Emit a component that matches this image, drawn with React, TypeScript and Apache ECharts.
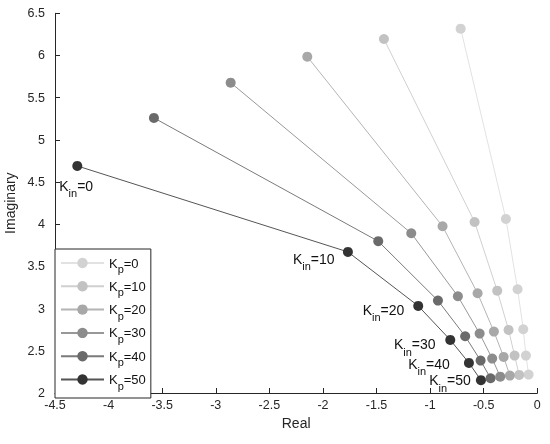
import React, { useEffect, useRef } from 'react';
import * as echarts from 'echarts';

const kpValues = ['0', '10', '20', '30', '40', '50'];
const kinValues = ['0', '10', '20', '30', '40', '50'];

const realKp0 = [-0.715, -0.293, -0.184, -0.131, -0.106, -0.081];
const imagKp0 = [6.318, 4.063, 3.23, 2.756, 2.443, 2.218];
const realKp10 = [-1.431, -0.585, -0.374, -0.268, -0.212, -0.169];
const imagKp10 = [6.195, 4.027, 3.213, 2.748, 2.443, 2.214];
const realKp20 = [-2.146, -0.884, -0.557, -0.405, -0.314, -0.256];
const imagKp20 = [5.986, 3.976, 3.182, 2.728, 2.428, 2.206];
const realKp30 = [-2.861, -1.176, -0.741, -0.538, -0.421, -0.346];
const imagKp30 = [5.678, 3.893, 3.147, 2.704, 2.408, 2.194];
const realKp40 = [-3.577, -1.484, -0.927, -0.673, -0.529, -0.436];
const imagKp40 = [5.26, 3.799, 3.095, 2.673, 2.384, 2.175];
const realKp50 = [-4.292, -1.767, -1.111, -0.812, -0.638, -0.526];
const imagKp50 = [4.691, 3.672, 3.032, 2.629, 2.357, 2.152];

const xMin = -4.5, xMax = 0, xStep = 0.5;
const yMin = 2, yMax = 6.5, yStep = 0.5;

const realSeries = [realKp0, realKp10, realKp20, realKp30, realKp40, realKp50];
const imagSeries = [imagKp0, imagKp10, imagKp20, imagKp30, imagKp40, imagKp50];

// styling / layout
const markerColors = ['#d2d2d2', '#c2c2c2', '#a8a8a8', '#8c8c8c', '#6a6a6a', '#333333'];
const lineColors = ['#e2e2e2', '#d0d0d0', '#b4b4b4', '#989898', '#7a7a7a', '#555555'];
const kinLabelOffsets = [[-18, 20], [-55, 7], [-55.6, 4], [-56.3, 4.5], [-60.7, 1], [-51.7, 0]];

const FONT = "'Liberation Sans', Arial, Helvetica, sans-serif";
const AXIS_COLOR = '#262626';

export default function App() {
  const ref = useRef<HTMLDivElement>(null);
  useEffect(() => {
    const chart = echarts.init(ref.current!, null, { renderer: 'svg' });
    const series = kpValues.map((kp, i) => {
      const isLast = i === kpValues.length - 1;
      const data = realSeries[i].map((x, j) => {
        const item: any = { value: [x, imagSeries[i][j]] };
        if (isLast) {
          item.label = {
            show: true,
            position: 'inside',
            offset: kinLabelOffsets[j],
            align: 'left',
            verticalAlign: 'middle',
            formatter: () => `{k|K}{s|in}{k|=${kinValues[j]}}`,
            rich: {
              k: { fontSize: 14, fontFamily: FONT, color: '#111' },
              s: { fontSize: 11, fontFamily: FONT, color: '#111', padding: [15, 0, 0, 0] },
            },
          };
        }
        return item;
      });
      return {
        type: 'line',
        name: `Kp=${kp}`,
        data,
        symbol: 'circle',
        symbolSize: 10,
        z: 2 + i,
        itemStyle: { color: markerColors[i], borderWidth: 0 },
        lineStyle: { color: lineColors[i], width: 1 },
        emphasis: { disabled: true },
      };
    });

    chart.setOption({
      animation: false,
      textStyle: { fontFamily: FONT },
      grid: { left: 55, right: 12.7, top: 13.3, bottom: 51, containLabel: false, outerBoundsMode: 'none' },
      xAxis: {
        type: 'value',
        min: xMin,
        max: xMax,
        interval: xStep,
        name: 'Real',
        nameLocation: 'middle',
        nameGap: 21,
        nameTextStyle: { fontSize: 14, color: AXIS_COLOR, fontFamily: FONT, verticalAlign: 'top' },
        axisLine: { show: true, onZero: false, lineStyle: { color: AXIS_COLOR, width: 1 } },
        axisTick: { show: true, inside: true, length: 5, lineStyle: { color: AXIS_COLOR } },
        axisLabel: { fontSize: 12.5, color: AXIS_COLOR, margin: 5, fontFamily: FONT },
        splitLine: { show: false },
      },
      yAxis: {
        type: 'value',
        min: yMin,
        max: yMax,
        interval: yStep,
        name: 'Imaginary',
        nameLocation: 'middle',
        nameGap: 36,
        nameTextStyle: { fontSize: 14, color: AXIS_COLOR, fontFamily: FONT },
        axisLine: { show: true, onZero: false, lineStyle: { color: AXIS_COLOR, width: 1 } },
        axisTick: { show: true, inside: true, length: 5, lineStyle: { color: AXIS_COLOR } },
        axisLabel: { fontSize: 12.5, color: AXIS_COLOR, margin: 10, fontFamily: FONT },
        splitLine: { show: false },
      },
      legend: {
        orient: 'vertical',
        left: 55,
        top: 249,
        itemWidth: 43,
        itemHeight: 13,
        itemGap: 5.3,
        padding: [7.5, 5, 7, 5],
        backgroundColor: '#ffffff',
        borderColor: AXIS_COLOR,
        borderWidth: 1,
        selectedMode: false,
        data: kpValues.map((kp) => `Kp=${kp}`),
        formatter: (name: string) => `{k|K}{s|p}{k|=${name.split('=')[1]}}`,
        textStyle: {
          rich: {
            k: { fontSize: 13, fontFamily: FONT, color: '#111' },
            s: { fontSize: 11, fontFamily: FONT, color: '#111', padding: [12, 0, 0, 0] },
          },
        },
      },
      series,
    });
    return () => chart.dispose();
  }, []);
  return <div ref={ref} style={{ position: 'fixed', left: 0, top: 0, width: 550, height: 444 }} />;
}
